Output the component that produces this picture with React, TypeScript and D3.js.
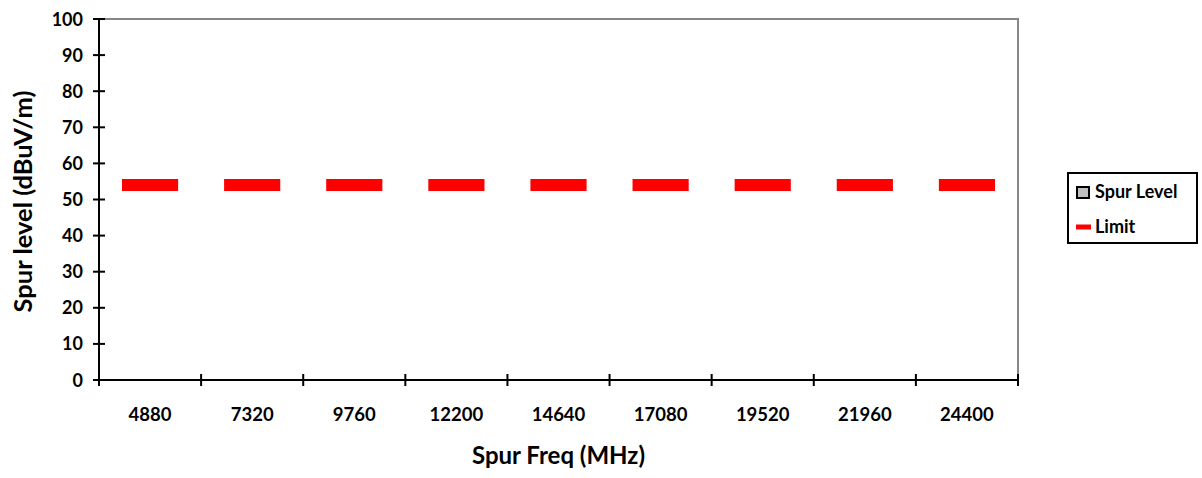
import React from "react";
import * as d3 from "d3";

const categories = ["4880", "7320", "9760", "12200", "14640", "17080", "19520", "21960", "24400"];
const spurLevel: (number | null)[] = [null, null, null, null, null, null, null, null, null];
const limit = [54, 54, 54, 54, 54, 54, 54, 54, 54];
const yTicks = [0, 10, 20, 30, 40, 50, 60, 70, 80, 90, 100];

const W = 1202;
const H = 478;
const m = { left: 99, top: 19, right: 1018, bottom: 380 };
const FONT = "Lato, 'Open Sans', sans-serif";

export default function App() {
  const x = d3.scaleBand<string>().domain(categories).range([m.left, m.right]).padding(0);
  const y = d3.scaleLinear().domain([0, 100]).range([m.bottom, m.top]);
  const bw = x.bandwidth();
  const dashW = bw * 0.55;

  return (
    <svg width={W} height={H} style={{ position: "absolute", left: 0, top: 0, background: "#fff" }}>
      <polyline
        points={`${m.left},${m.top} ${m.right},${m.top} ${m.right},${m.bottom}`}
        fill="none"
        stroke="#868686"
        strokeWidth={2}
      />
      {spurLevel.map((v, i) =>
        v == null ? null : (
          <rect
            key={"b" + i}
            x={(x(categories[i]) as number) + bw * 0.25}
            width={bw * 0.5}
            y={y(v)}
            height={y(0) - y(v)}
            fill="#c0c0c0"
            stroke="#000"
          />
        )
      )}
      {limit.map((v, i) => {
        const cx = (x(categories[i]) as number) + bw / 2;
        return (
          <line
            key={"l" + i}
            x1={cx - dashW / 2}
            x2={cx + dashW / 2}
            y1={y(v)}
            y2={y(v)}
            stroke="#ff0000"
            strokeWidth={12}
          />
        );
      })}
      <line x1={m.left} x2={m.left} y1={m.top} y2={m.bottom} stroke="#000" strokeWidth={2} />
      {yTicks.map((t) => (
        <g key={"y" + t}>
          <line x1={m.left - 6} x2={m.left + 6} y1={y(t)} y2={y(t)} stroke="#000" strokeWidth={2} />
          <text
            x={m.left - 16}
            y={y(t) + 6.5}
            textAnchor="end"
            fontFamily={FONT}
            fontWeight="bold"
            fontSize={18}
            fill="#000"
          >
            {t}
          </text>
        </g>
      ))}
      <line x1={m.left} x2={m.right} y1={m.bottom} y2={m.bottom} stroke="#000" strokeWidth={2} />
      {[...categories.map((c) => x(c) as number), m.right].map((px, i) => (
        <line key={"xt" + i} x1={px} x2={px} y1={m.bottom - 6} y2={m.bottom + 6} stroke="#000" strokeWidth={2} />
      ))}
      {categories.map((c) => (
        <text
          key={"xl" + c}
          x={(x(c) as number) + bw / 2}
          y={421}
          textAnchor="middle"
          fontFamily={FONT}
          fontWeight="bold"
          fontSize={18.5}
          fill="#000"
        >
          {c}
        </text>
      ))}
      <text
        x={(m.left + m.right) / 2}
        y={464}
        textAnchor="middle"
        fontFamily={FONT}
        fontWeight="bold"
        fontSize={24}
        fill="#000"
      >
        Spur Freq (MHz)
      </text>
      <text
        transform={`translate(32,${(m.top + m.bottom) / 2 + 2}) rotate(-90)`}
        textAnchor="middle"
        fontFamily={FONT}
        fontWeight="bold"
        fontSize={25.5}
        fill="#000"
      >
        Spur level (dBuV/m)
      </text>
      <rect x={1068} y={173} width={129} height={70} fill="#fff" stroke="#000" strokeWidth={2} />
      <rect x={1077} y={187} width={12} height={11} fill="#c0c0c0" stroke="#000" strokeWidth={2} />
      <text x={1095} y={198} fontFamily={FONT} fontWeight="bold" fontSize={18} fill="#000">
        Spur Level
      </text>
      <line x1={1076} x2={1091} y1={227} y2={227} stroke="#ff0000" strokeWidth={5} />
      <text x={1095} y={233} fontFamily={FONT} fontWeight="bold" fontSize={18} fill="#000">
        Limit
      </text>
    </svg>
  );
}
